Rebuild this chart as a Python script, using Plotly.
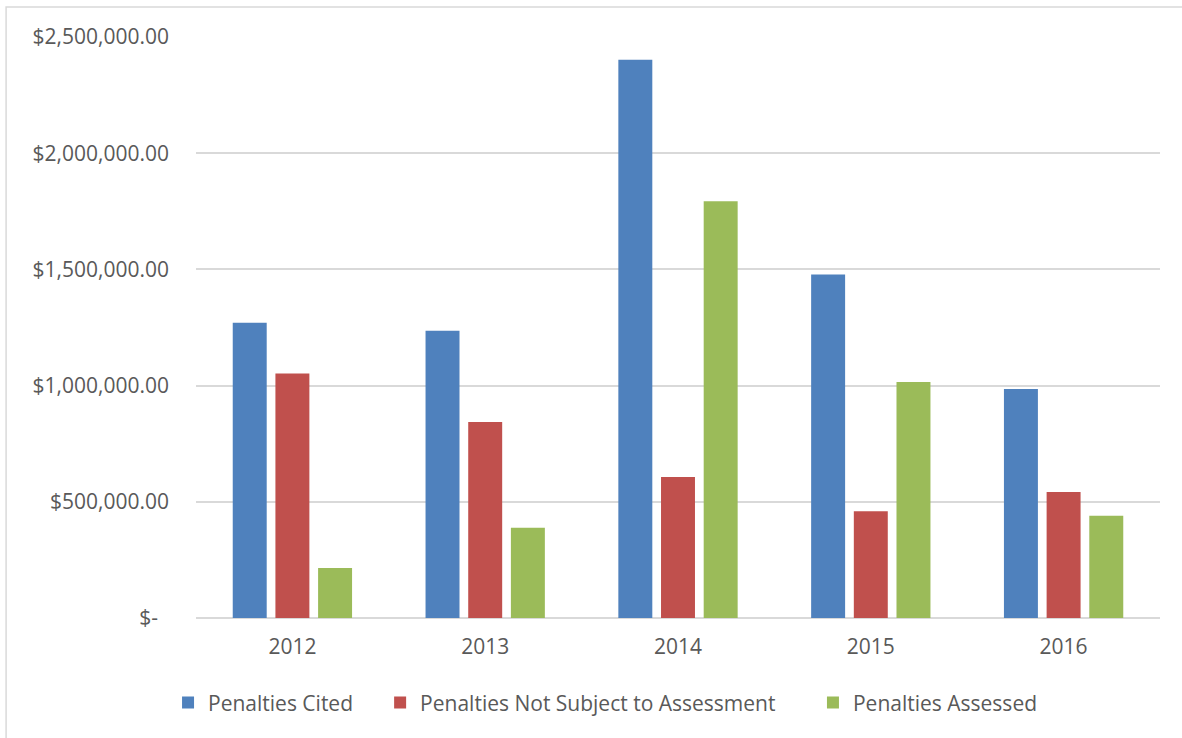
import plotly.graph_objects as go

years = ["2012", "2013", "2014", "2015", "2016"]
penalties_cited = [1270000, 1236000, 2402000, 1478000, 985000]
not_subject = [1052000, 843000, 607000, 459000, 542000]
penalties_assessed = [215000, 388000, 1793000, 1015000, 440000]

series = [
    ("Penalties Cited", penalties_cited, "#4F81BD", "legend", -0.029),
    ("Penalties Not Subject to Assessment", not_subject, "#C0504D", "legend2", 0.191),
    ("Penalties Assessed", penalties_assessed, "#9BBB59", "legend3", 0.640),
]

tick_vals = [0, 500000, 1000000, 1500000, 2000000, 2500000]
tick_text = ["$-\u00a0\u00a0", "$500,000.00", "$1,000,000.00",
             "$1,500,000.00", "$2,000,000.00", "$2,500,000.00"]

FONT = "Open Sans"
TEXT = "#595959"
SIZE = 21

fig = go.Figure()
legend_boxes = {}
for name, vals, color, leg, lx in series:
    fig.add_trace(go.Bar(x=years, y=vals, name=name, legend=leg,
                         marker=dict(color=color, line=dict(width=0))))
    legend_boxes[leg] = dict(orientation="h", x=lx, xanchor="left", y=-0.146, yanchor="middle",
                             bgcolor="rgba(0,0,0,0)",
                             font=dict(family=FONT, size=SIZE, color=TEXT))

fig.update_layout(
    width=1182, height=738,
    margin=dict(l=196, r=22, t=37, b=120),
    paper_bgcolor="white", plot_bgcolor="white",
    barmode="group", bargap=0.336, bargroupgap=0.204,
    font=dict(family=FONT, size=SIZE, color=TEXT),
    showlegend=True,
    xaxis=dict(showgrid=False, showline=False, ticks="", tickfont=dict(size=SIZE),
               ticklabelstandoff=14),
    yaxis=dict(range=[0, 2500000], tickvals=tick_vals, ticktext=tick_text,
               showgrid=True, gridcolor="#D9D9D9", gridwidth=1.5,
               zeroline=True, zerolinecolor="#D9D9D9", zerolinewidth=1.5,
               showline=False, ticks="", ticklabelstandoff=26, tickfont=dict(size=SIZE)),
    shapes=[dict(type="rect", xref="paper", yref="paper",
                 x0=-0.197, x1=1.2, y0=-0.4, y1=1.0516,
                 line=dict(color="#D9D9D9", width=1.5), fillcolor="rgba(0,0,0,0)", layer="below")],
)
fig.update_layout(**legend_boxes)

fig.write_html("out.html")
